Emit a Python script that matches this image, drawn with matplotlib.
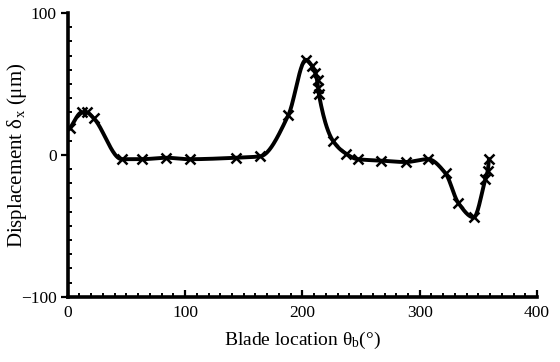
import numpy as np
import matplotlib
matplotlib.use("Agg")
import matplotlib.pyplot as plt
from matplotlib.ticker import MultipleLocator

# blade location (deg) and displacement (um)
theta = [2, 12, 16, 22, 46, 63, 84, 104, 143, 164, 188, 203, 208, 211, 213, 213, 214,
         226, 237, 247, 267, 288, 307, 322, 333, 346, 356, 358, 359]
disp = [19, 30, 30, 26, -3, -3, -2, -3, -2, -1, 28, 67, 63, 58, 53, 47, 43,
        10, 1, -3, -4, -5, -3, -13, -34, -44, -17, -11, -3]


def pchip(x, y, xs):
    # monotone cubic, only used to draw the smooth line through the markers
    x = np.asarray(x, float)
    y = np.asarray(y, float)
    ux = np.unique(x)
    uy = np.array([y[x == v].mean() for v in ux])
    h = np.diff(ux)
    d = np.diff(uy) / h
    m = np.zeros_like(uy)
    for k in range(1, len(ux) - 1):
        if d[k - 1] * d[k] > 0:
            w1 = 2 * h[k] + h[k - 1]
            w2 = h[k] + 2 * h[k - 1]
            m[k] = (w1 + w2) / (w1 / d[k - 1] + w2 / d[k])
    m[0] = d[0]
    m[-1] = d[-1]
    out = np.empty_like(xs)
    for i, xv in enumerate(xs):
        k = min(max(np.searchsorted(ux, xv) - 1, 0), len(ux) - 2)
        t = (xv - ux[k]) / h[k]
        h00 = 2 * t**3 - 3 * t**2 + 1
        h10 = t**3 - 2 * t**2 + t
        h01 = -2 * t**3 + 3 * t**2
        h11 = t**3 - t**2
        out[i] = h00 * uy[k] + h10 * h[k] * m[k] + h01 * uy[k + 1] + h11 * h[k] * m[k + 1]
    return out


plt.rcParams['font.family'] = ['Liberation Serif', 'DejaVu Serif']

fig = plt.figure(figsize=(5.6, 3.62), dpi=100)
ax = fig.add_axes([0.121, 0.180, 0.838, 0.784])

xs = np.linspace(min(theta), max(theta), 600)
ax.plot(xs, pchip(theta, disp, xs), color='black', linewidth=2.8)
ax.plot(theta, disp, linestyle='none', marker='x', color='black',
        markersize=7, markeredgewidth=1.8)

ax.set_xlim(0, 400)
ax.set_ylim(-100, 100)
ax.xaxis.set_major_locator(MultipleLocator(100))
ax.xaxis.set_minor_locator(MultipleLocator(10))
ax.yaxis.set_major_locator(MultipleLocator(100))
ax.yaxis.set_minor_locator(MultipleLocator(10))

for s in ['top', 'right']:
    ax.spines[s].set_visible(False)
for s in ['left', 'bottom']:
    ax.spines[s].set_linewidth(2.6)

ax.tick_params(axis='x', which='major', direction='in', length=5, width=1.6,
               labelsize=12.5, pad=6)
ax.tick_params(axis='x', which='minor', direction='in', length=3, width=1.4)
ax.tick_params(axis='y', which='major', direction='out', length=5, width=1.6,
               labelsize=12.5, pad=3)
ax.tick_params(axis='y', which='minor', direction='in', length=3, width=1.4)

ax.set_xlabel(r'Blade location $\mathregular{\theta_b}$(°)', fontsize=14, labelpad=6)
ax.set_ylabel(r'Displacement $\mathregular{\delta_x}$ ($\mathregular{\mu}$m)', fontsize=15)
ax.yaxis.set_label_coords(-0.083, 0.5)

fig.savefig('out.png', dpi=100)
